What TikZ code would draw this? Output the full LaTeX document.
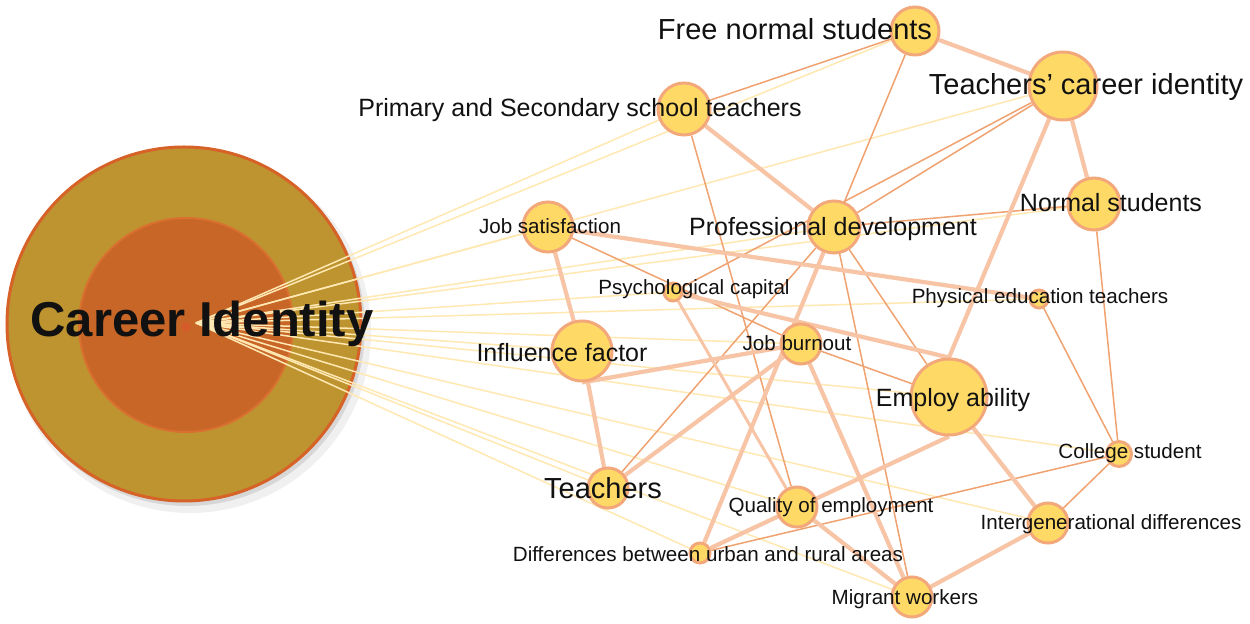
\documentclass[tikz,border=0pt]{standalone}
\usepackage{fontspec}
\setmainfont{Liberation Sans}
\definecolor{nodefill}{RGB}{255,217,102}
\definecolor{nodeline}{RGB}{242,168,122}
\definecolor{thickc}{RGB}{247,196,166}
\definecolor{thinc}{RGB}{240,162,112}
\definecolor{cedgec}{RGB}{255,232,178}
\definecolor{outerfill}{RGB}{190,148,48}
\definecolor{outerline}{RGB}{214,98,40}
\definecolor{innerfill}{RGB}{200,102,40}
\definecolor{innerline}{RGB}{218,112,48}
\definecolor{dotc}{RGB}{212,92,42}
\definecolor{txt}{RGB}{17,17,17}
\pgfdeclarelayer{back}
\pgfdeclarelayer{edges}
\pgfdeclarelayer{front}
\pgfsetlayers{back,edges,main,front}
\begin{document}
\begin{tikzpicture}[x=0.5pt,y=-0.5pt,
  nd/.style={circle, draw=nodeline, line width=1.5pt, fill=nodefill, inner sep=0pt, minimum size=#1},
  lab/.style={anchor=base, inner sep=0pt, text=txt},
  lbig/.style={lab, font=\fontsize{14.5}{17}\selectfont},
  lmid/.style={lab, font=\fontsize{12.5}{15}\selectfont},
  lsml/.style={lab, font=\fontsize{10.3}{12}\selectfont},
  thick edge/.style={draw=thickc, line width=2.1pt},
  thin edge/.style={draw=thinc, line width=0.75pt},
  mid edge/.style={draw=thickc, line width=1.5pt},
  cedge/.style={draw=cedgec, line width=0.75pt}
]
\useasboundingbox (0,0) rectangle (1250,624);
\begin{pgfonlayer}{back}
  \fill[white] (0,0) rectangle (1250,624);
  \node[circle, inner sep=0pt, minimum size=181pt, fill=black, opacity=0.06] (sh2) at (190,332) {};
  \node[circle, inner sep=0pt, minimum size=178pt, fill=black, opacity=0.10] (sh1) at (187,328) {};
  \node[circle, inner sep=0pt, minimum size=177pt, fill=outerfill, draw=outerline, line width=1.5pt] (cio) at (184,324) {};
  \node[circle, inner sep=0pt, minimum size=107pt, fill=innerfill, draw=innerline, line width=1pt] (cii) at (186,325) {};
  \node[circle, inner sep=0pt, minimum size=5pt, fill=dotc] (cid) at (186,327) {};
\end{pgfonlayer}
\coordinate (hub) at (196,323);

% topic nodes
\node[nd=24pt] (fns) at (915,31) {};
\node[nd=26pt] (pst) at (684,109) {};
\node[nd=34pt] (tci) at (1063,86) {};
\node[nd=26pt] (ns) at (1094,204) {};
\node[nd=26pt] (pd) at (834,227) {};
\node[nd=25pt] (js) at (548,227) {};
\node[nd=9pt] (psy) at (673,292) {};
\node[nd=9pt] (pet) at (1039,299) {};
\node[nd=20pt] (jb) at (801,344) {};
\node[nd=30pt] (inf) at (582,351) {};
\node[nd=38pt] (emp) at (949,397) {};
\node[nd=12.5pt] (cs) at (1119,454) {};
\node[nd=20pt] (te) at (608,488) {};
\node[nd=20pt] (qoe) at (797,507) {};
\node[nd=20pt] (ig) at (1048,523) {};
\node[nd=10pt] (diff) at (700,553) {};
\node[nd=20pt] (mw) at (912,597) {};

\begin{pgfonlayer}{edges}
  \foreach \n in {fns,pst,tci,ns,pd,js,psy,pet,jb,inf,emp,cs,te,qoe,ig,diff,mw}
    \draw[cedge] (hub) -- (\n);
  % thin edges
  \draw[thin edge] (fns) -- (pst);
  \draw[thin edge] (fns) -- (pd);
  \draw[thin edge] (tci) -- (pd);
  \draw[thin edge] (tci) -- (psy);
  \draw[thin edge] (pst) -- (qoe);
  \draw[thin edge] (js) -- (jb);
  \draw[thin edge] (te) -- (pd);
  \draw[thin edge] (pd) -- (emp);
  \draw[thin edge] (pd) -- (mw);
  \draw[thin edge] (jb) -- (emp);
  \draw[thin edge] (pet) -- (cs);
  \draw[thin edge] (ns) -- (cs);
  \draw[thin edge] (ns) -- (pd);
  \draw[thin edge] (diff) -- (cs);
  \draw[thin edge] (ig) -- (cs);
  % thick edges
  \draw[thick edge] (fns) -- (tci);
  \draw[thick edge] (tci) -- (ns);
  \draw[thick edge] (tci) -- (emp.north);
  \draw[thick edge] (pst) -- (pd);
  \draw[thick edge] (js) -- (inf);
  \draw[thick edge] (js) -- (pet);
  \draw[thick edge] (inf.south) -- (jb);
  \draw[thick edge] (inf) -- (te);
  \draw[thick edge] (te) -- (jb);
  \draw[thick edge] (diff) -- (pd);
  \draw[thick edge] (diff) -- (emp.south);
  \draw[thick edge] (psy) -- (emp.north);
  \draw[thick edge] (jb) -- (mw);
  \draw[thick edge] (emp) -- (ig);
  \draw[thick edge] (ig) -- (mw);
  \draw[thick edge] (qoe) -- (mw);
  \draw[mid edge] (psy) -- (qoe);
\end{pgfonlayer}

\begin{pgfonlayer}{front}
  \node[lab, font=\fontsize{24.5}{28}\selectfont\bfseries] (cil) at (202,337) {Career Identity};
  \node[lbig] (fnsl) at (795,40) {Free normal students};
  \node[lmid] (pstl) at (580,117) {Primary and Secondary school teachers};
  \node[lbig] (tcil) at (1086,95) {Teachers’ career identity};
  \node[lmid] (nsl) at (1111,212) {Normal students};
  \node[lmid] (pdl) at (833,236) {Professional development};
  \node[lsml] (jsl) at (550,234) {Job satisfaction};
  \node[lsml] (psyl) at (694,295) {Psychological capital};
  \node[lsml] (petl) at (1040,304) {Physical education teachers};
  \node[lsml] (jbl) at (797,351) {Job burnout};
  \node[lmid] (infl) at (562,362) {Influence factor};
  \node[lmid] (empl) at (953,407) {Employ ability};
  \node[lsml] (csl) at (1130,459) {College student};
  \node[lbig] (tel) at (603,499) {Teachers};
  \node[lsml] (qoel) at (831,513) {Quality of employment};
  \node[lsml] (igl) at (1111,530) {Intergenerational differences};
  \node[lsml] (diffl) at (708,562) {Differences between urban and rural areas};
  \node[lsml] (mwl) at (905,605) {Migrant workers};
\end{pgfonlayer}
\end{tikzpicture}
\end{document}
